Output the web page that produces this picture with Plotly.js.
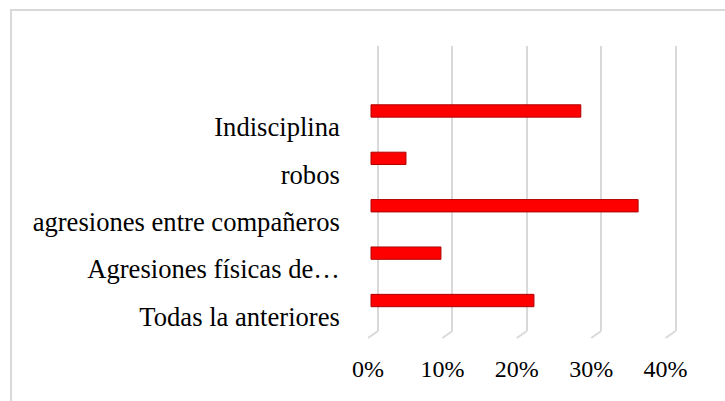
<!DOCTYPE html>
<html>
<head>
<meta charset="utf-8">
<script src="https://cdn.plot.ly/plotly-3.0.1.min.js"></script>
<style>
  html, body { margin: 0; padding: 0; background: #ffffff; }
  #frame { position: absolute; left: 10px; top: 9px; width: 730px; height: 410px; border: 2px solid #d9d9d9; box-sizing: border-box; }
  #chart { position: absolute; left: 0; top: 0; width: 725px; height: 401px; }
</style>
</head>
<body>
<div id="frame"></div>
<div id="chart"></div>
<script>
// Categories listed bottom-to-top
const categories = ["Todas la anteriores", "Agresiones físicas de…", "agresiones entre compañeros", "robos", "Indisciplina"];
const values = [21.9, 9.4, 35.9, 4.7, 28.2];
const tickValues = [0, 10, 20, 30, 40];
const tickLabels = ["0%", "10%", "20%", "30%", "40%"];

const W = 725, H = 401;
const plotTop = 46, plotBottom = 331;
const frontZero = 371;     // pixel of 0% on the front (bar) plane
const depthShift = 7;      // back-wall gridlines sit this many px to the right
const pxPerUnit = 7.44;    // px per 1%
const xMin = -1.5, xMax = 42;
const shiftUnits = depthShift / pxPerUnit;

const traces = [
  {
    type: "bar",
    orientation: "h",
    y: categories,
    x: values,
    xaxis: "x",
    yaxis: "y",
    width: 0.26,
    marker: { color: "#ff0000", line: { color: "#b00000", width: 1 } },
    hoverinfo: "skip"
  },
  {
    type: "scatter",
    mode: "none",
    y: categories,
    x: values,
    xaxis: "x2",
    yaxis: "y",
    hoverinfo: "skip",
    showlegend: false
  }
];

const feet = tickValues.map(v => ({
  type: "line", xref: "x2", yref: "paper",
  xsizemode: "pixel", ysizemode: "pixel",
  xanchor: v, yanchor: 0,
  x0: 0, x1: -10, y0: 0, y1: -7,
  line: { color: "#d9d9d9", width: 2 },
  layer: "below"
}));

const layout = {
  width: W, height: H,
  margin: { l: 0, r: 0, t: plotTop, b: H - plotBottom, pad: 0 },
  paper_bgcolor: "rgba(0,0,0,0)",
  plot_bgcolor: "rgba(0,0,0,0)",
  showlegend: false,
  font: { family: "Liberation Serif, Times New Roman, serif", color: "#000000" },
  xaxis: {
    domain: [(frontZero + xMin * pxPerUnit) / W, (frontZero + xMax * pxPerUnit) / W],
    range: [xMin, xMax],
    tickvals: tickValues,
    ticktext: tickLabels,
    showgrid: false, zeroline: false, showline: false,
    ticks: "", ticklabelstandoff: 21, ticklabelshift: -3,
    tickfont: { size: 24, family: "Liberation Serif, Times New Roman, serif", color: "#000" },
    fixedrange: true
  },
  xaxis2: {
    overlaying: "x",
    anchor: "y",
    range: [xMin - shiftUnits, xMax - shiftUnits],
    tickvals: tickValues,
    showgrid: true, gridcolor: "#d9d9d9", gridwidth: 2,
    zeroline: false, showline: false,
    showticklabels: false, ticks: "",
    fixedrange: true
  },
  yaxis: {
    type: "category",
    categoryorder: "array",
    categoryarray: categories,
    range: [-0.643, 5.371],
    showgrid: false, zeroline: false, showline: false,
    ticks: "",
    ticklabelstandoff: 19,
    ticklabelshift: 16,
    tickfont: { size: 26.6, family: "Liberation Serif, Times New Roman, serif", color: "#000" },
    fixedrange: true
  },
  shapes: feet,
  bargap: 0
};

Plotly.newPlot("chart", traces, layout, { staticPlot: true, displayModeBar: false });
</script>
</body>
</html>
